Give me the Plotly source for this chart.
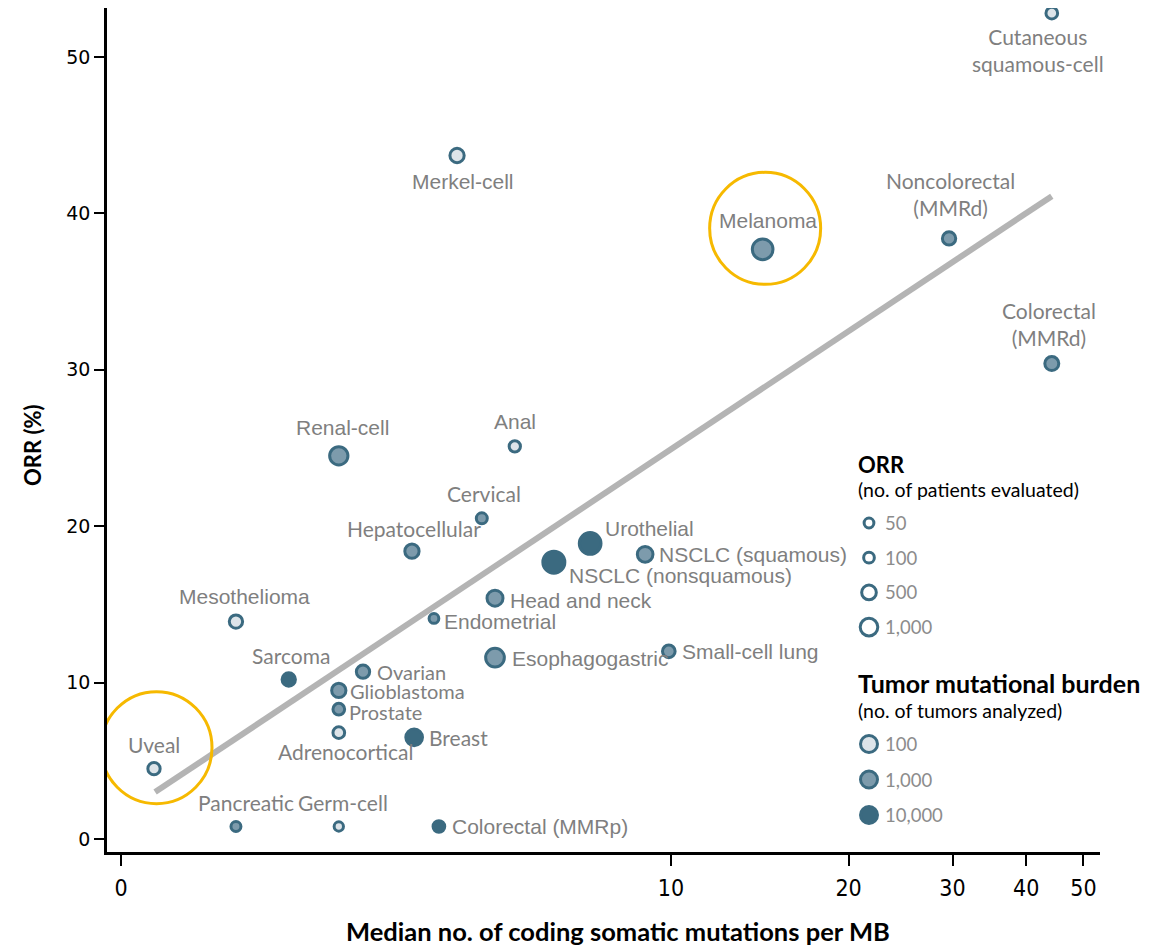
import numpy as np
import plotly.graph_objects as go

# ---- data -------------------------------------------------------------
cancer_types = [
    "Cutaneous<br>squamous-cell", "Merkel-cell", "Melanoma", "Noncolorectal<br>(MMRd)",
    "Colorectal<br>(MMRd)", "Renal-cell", "Anal", "Cervical", "Hepatocellular",
    "Urothelial", "NSCLC (squamous)", "NSCLC (nonsquamous)", "Head and neck",
    "Endometrial", "Mesothelioma", "Esophagogastric", "Small-cell lung", "Sarcoma",
    "Ovarian", "Glioblastoma", "Prostate", "Adrenocortical", "Breast", "Uveal",
    "Pancreatic", "Germ-cell", "Colorectal (MMRp)",
]
median_tmb = [44.2, 6.11, 14.3, 29.6, 44.2, 3.96, 7.16, 6.56, 5.29, 8.53, 9.53, 7.87,
              6.80, 5.69, 2.09, 6.80, 9.96, 3.05, 4.40, 3.96, 3.96, 3.96, 5.33, 0.60,
              2.09, 3.96, 5.78]
orr_pct = [52.8, 43.7, 37.7, 38.4, 30.4, 24.5, 25.1, 20.5, 18.4, 18.9, 18.2, 17.7,
           15.4, 14.1, 13.9, 11.6, 12.0, 10.2, 10.7, 9.5, 8.3, 6.8, 6.5, 4.5,
           0.8, 0.8, 0.8]
patients_evaluated = [170, 450, 1700, 330, 410, 1140, 140, 120, 450, 1970, 655, 2050,
                      705, 50, 330, 1225, 260, 330, 330, 450, 170, 170, 825, 225,
                      60, 32, 170]
tumors_analyzed = [100, 100, 1000, 1000, 1000, 1000, 100, 1000, 1000, 10000, 1000, 10000,
                   1000, 1000, 100, 1000, 1000, 10000, 1000, 1000, 1000, 100, 10000, 100,
                   1000, 100, 10000]
highlighted = ["Melanoma", "Uveal"]

trend_tmb = [0.62, 44.2]
trend_orr = [3.0, 41.1]

x_tick_values = [0, 10, 20, 30, 40, 50]
x_tick_labels = ["0", "10", "20", "30", "40", "50"]
y_tick_values = [0, 10, 20, 30, 40, 50]

legend_patients = [50, 100, 500, 1000]
legend_patient_labels = ["50", "100", "500", "1,000"]
legend_tumors = [100, 1000, 10000]
legend_tumor_labels = ["100", "1,000", "10,000"]

# ---- styling ----------------------------------------------------------
DARK = "#3b6a80"
FILLS = {100: "#dde4e9", 1000: "#7d9bac", 10000: "#3b6a80"}
LABEL_GREY = "#7f7f7f"
GOLD = "#f6b900"
ARIAL = "Liberation Sans, Arial, sans-serif"
CALIBRI = "Lato, Liberation Sans, sans-serif"
RING = 3

# plot-area box in pixels (left, right, top, bottom)
PL, PR, PT, PB = 107, 1100, 8, 852

# label placement: (anchor, dx, dy, font, size) in pixels, dy measured downward
label_style = {
    "Cutaneous<br>squamous-cell": ("center", -14, 37, CALIBRI, 21),
    "Merkel-cell": ("center", 6, 26, ARIAL, 21),
    "Melanoma": ("center", 5, -29, ARIAL, 21),
    "Noncolorectal<br>(MMRd)": ("center", 1, -44, CALIBRI, 21),
    "Colorectal<br>(MMRd)": ("center", -3, -40, CALIBRI, 21),
    "Renal-cell": ("center", 4, -28, ARIAL, 21),
    "Anal": ("center", 0, -25, ARIAL, 21),
    "Cervical": ("center", 2, -25, CALIBRI, 21),
    "Hepatocellular": ("center", 2, -23, CALIBRI, 21),
    "Urothelial": ("left", 13, -15, ARIAL, 21),
    "NSCLC (squamous)": ("left", 12, 0, ARIAL, 21),
    "NSCLC (nonsquamous)": ("left", 13, 13, ARIAL, 21),
    "Head and neck": ("left", 13, 2, ARIAL, 21),
    "Endometrial": ("left", 8, 3, ARIAL, 21),
    "Mesothelioma": ("center", 9, -25, ARIAL, 21),
    "Esophagogastric": ("left", 15, 1, ARIAL, 21),
    "Small-cell lung": ("left", 11, 0, ARIAL, 21),
    "Sarcoma": ("center", 2, -24, CALIBRI, 21),
    "Ovarian": ("left", 12, 0, CALIBRI, 20),
    "Glioblastoma": ("left", 9, 1, CALIBRI, 20),
    "Prostate": ("left", 8, 3, CALIBRI, 20),
    "Adrenocortical": ("center", 7, 19, CALIBRI, 21),
    "Breast": ("left", 13, 0, CALIBRI, 21),
    "Uveal": ("center", 0, -24, CALIBRI, 21),
    "Pancreatic": ("center", 10, -24, CALIBRI, 21),
    "Germ-cell": ("center", 4, -24, CALIBRI, 21),
    "Colorectal (MMRp)": ("left", 11, 0, ARIAL, 21),
}


def tmb_pos(v):
    """Axis position: linear up to 10 mutations/MB, logarithmic above."""
    v = np.asarray(v, dtype=float)
    return np.where(v <= 10, v * 55.0, 550.0 + 590.0 * np.log10(np.maximum(v, 10) / 10))


def marker_size(n):
    return 7.5 + 0.32 * np.sqrt(np.asarray(n, dtype=float))


fig = go.Figure()

# trend line
fig.add_trace(go.Scatter(
    x=tmb_pos(trend_tmb), y=trend_orr, mode="lines",
    line=dict(color="#b4b4b4", width=6), hoverinfo="skip", showlegend=False,
))

# cancer-type bubbles
fig.add_trace(go.Scatter(
    x=tmb_pos(median_tmb), y=orr_pct, mode="markers",
    marker=dict(
        size=marker_size(patients_evaluated), opacity=1,
        color=[FILLS[t] for t in tumors_analyzed],
        line=dict(color=DARK, width=RING),
    ),
    text=[c.replace("<br>", " ") for c in cancer_types],
    hoverinfo="text", showlegend=False,
))

annotations = []
for name, xv, yv in zip(cancer_types, tmb_pos(median_tmb), orr_pct):
    anchor, dx, dy, fam, fsize = label_style[name]
    annotations.append(dict(
        x=float(xv), y=yv, xref="x", yref="y", text=name, showarrow=False,
        xanchor=anchor, yanchor="middle", xshift=dx, yshift=-dy, align="center",
        font=dict(family=fam, size=fsize, color=LABEL_GREY),
    ))

# highlight rings around selected tumour types
shapes = []
for name in highlighted:
    i = cancer_types.index(name)
    shapes.append(dict(
        type="circle", xref="x", yref="y",
        xsizemode="pixel", ysizemode="pixel",
        xanchor=float(tmb_pos(median_tmb[i])), yanchor=orr_pct[i],
        x0=-53, x1=58, y0=-35, y1=77,
        line=dict(color=GOLD, width=3), fillcolor="rgba(0,0,0,0)",
    ))

# ---- legend (drawn on a pixel-space overlay axis) ---------------------
LX = 869
orr_rows = 523 + 34.7 * np.arange(len(legend_patients))
tmb_rows = 744 + 35.5 * np.arange(len(legend_tumors))

fig.add_trace(go.Scatter(
    x=[LX] * len(legend_patients), y=orr_rows, xaxis="x2", yaxis="y2", mode="markers",
    marker=dict(size=marker_size(legend_patients), color="white", opacity=1,
                line=dict(color=DARK, width=RING)),
    hoverinfo="skip", showlegend=False,
))
fig.add_trace(go.Scatter(
    x=[LX] * len(legend_tumors), y=tmb_rows, xaxis="x2", yaxis="y2", mode="markers",
    marker=dict(size=17, color=[FILLS[t] for t in legend_tumors], opacity=1,
                line=dict(color=DARK, width=RING)),
    hoverinfo="skip", showlegend=False,
))


def px_text(x, y, text, size, color="black", family=CALIBRI, anchor="left", angle=0):
    """Place text at a pixel position via paper coordinates."""
    annotations.append(dict(
        x=(x - PL) / (PR - PL), y=(PB - y) / (PB - PT), xref="paper", yref="paper",
        text=text, showarrow=False,
        xanchor=anchor, yanchor="middle", textangle=angle,
        font=dict(family=family, size=size, color=color),
    ))


px_text(856, 464, "<b>ORR</b>", 22)
px_text(856, 490, "(no. of patients evaluated)", 19.5)
for lbl, y in zip(legend_patient_labels, orr_rows):
    px_text(883, y, lbl, 18.5, color="#8c8c8c")
px_text(856, 683, "<b>Tumor mutational burden</b>", 25)
px_text(856, 710, "(no. of tumors analyzed)", 19.5)
for lbl, y in zip(legend_tumor_labels, tmb_rows):
    px_text(883, y, lbl, 18.5, color="#8c8c8c")

# axis titles
px_text(618, 931, "<b>Median no. of coding somatic mutations per MB</b>", 25.5, anchor="center")
px_text(33, 445, "<b>ORR (%)</b>", 22, anchor="center", angle=-90)

fig.update_layout(
    width=1173, height=950,
    margin=dict(l=PL, r=1173 - PR, t=PT, b=950 - PB),
    paper_bgcolor="white", plot_bgcolor="white",
    showlegend=False,
    annotations=annotations, shapes=shapes,
    xaxis=dict(
        range=[-14, 979], tickmode="array",
        tickvals=tmb_pos(x_tick_values), ticktext=x_tick_labels,
        showline=True, linecolor="black", linewidth=2.5,
        ticks="outside", ticklen=11, tickwidth=2, tickcolor="black",
        showgrid=False, zeroline=False, ticklabelstandoff=3,
        tickfont=dict(family="Liberation Sans Narrow, DejaVu Sans Condensed, Arial Narrow, sans-serif",
                      size=23, color="black"),
    ),
    yaxis=dict(
        range=[-0.83, 53.13], tickmode="array", tickvals=y_tick_values,
        showline=True, linecolor="black", linewidth=2.5,
        ticks="outside", ticklen=10, tickwidth=2, tickcolor="black",
        showgrid=False, zeroline=False,
        tickfont=dict(family="DejaVu Sans, Verdana, sans-serif", size=19, color="black"),
    ),
    xaxis2=dict(overlaying="x", range=[PL, PR], visible=False, fixedrange=True),
    yaxis2=dict(overlaying="y", range=[PB, PT], visible=False, fixedrange=True),
)

fig.write_html("out.html")
